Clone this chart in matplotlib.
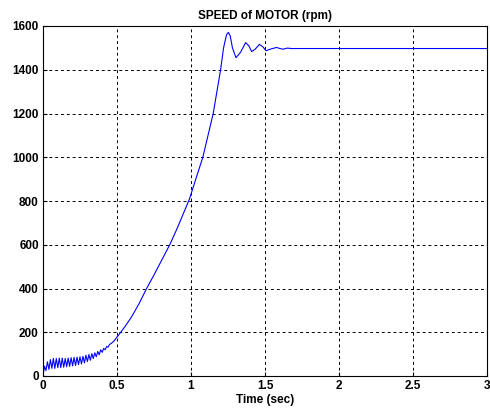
import matplotlib
matplotlib.use("Agg")
import matplotlib.pyplot as plt

# 电机转速数据
time_s = [0.00, 0.01, 0.02, 0.03, 0.04, 0.05, 0.06, 0.07, 0.08, 0.09,
          0.10, 0.11, 0.12, 0.13, 0.14, 0.15, 0.16, 0.17, 0.18, 0.19,
          0.20, 0.21, 0.22, 0.23, 0.24, 0.25, 0.26, 0.27, 0.28, 0.29,
          0.30, 0.31, 0.32, 0.33, 0.34, 0.35, 0.36, 0.37, 0.38, 0.39,
          0.40, 0.41, 0.42, 0.43, 0.44, 0.45, 0.46, 0.48, 0.50, 0.55,
          0.60, 0.65, 0.70, 0.75, 0.80, 0.86, 0.90, 0.95, 0.99, 1.03,
          1.08, 1.15, 1.20, 1.22, 1.24, 1.252, 1.265, 1.28, 1.304, 1.335,
          1.369, 1.39, 1.41, 1.435, 1.462, 1.485, 1.507, 1.54, 1.579, 1.60,
          1.624, 1.65, 1.68, 3.00]
speed_rpm = [0, 45, 25, 65, 30, 75, 35, 80, 35, 80,
             38, 82, 38, 82, 40, 80, 42, 82, 44, 84,
             46, 85, 48, 86, 52, 88, 55, 90, 60, 95,
             66, 98, 72, 102, 80, 106, 88, 112, 97, 120,
             108, 126, 120, 135, 132, 145, 148, 160, 178, 222,
             272, 332, 400, 462, 527, 605, 665, 745, 810, 895,
             1000, 1200, 1400, 1500, 1560, 1571, 1555, 1500, 1455, 1480,
             1524, 1510, 1483, 1495, 1516, 1505, 1487, 1495, 1502, 1497,
             1494, 1499, 1497, 1497]

x_ticks = [0, 0.5, 1, 1.5, 2, 2.5, 3]
x_tick_labels = ['0', '0.5', '1', '1.5', '2', '2.5', '3']
y_ticks = [0, 200, 400, 600, 800, 1000, 1200, 1400, 1600]

plt.rcParams['font.family'] = ['Liberation Sans', 'DejaVu Sans']
plt.rcParams['font.weight'] = 'bold'

fig = plt.figure(figsize=(4.9, 4.17), dpi=100)
ax = fig.add_axes([43 / 490, 41 / 417, 444 / 490, 350 / 417])

ax.plot(time_s, speed_rpm, color='#0000ff', linewidth=0.8)

ax.set_xlim(0, 3)
ax.set_ylim(0, 1600)
ax.set_xticks(x_ticks)
ax.set_xticklabels(x_tick_labels)
ax.set_yticks(y_ticks)
ax.grid(True, color='black', linestyle=(0, (3, 3)), linewidth=0.7)
ax.tick_params(direction='in', length=3, labelsize=8.5, pad=3)
for s in ax.spines.values():
    s.set_linewidth(0.8)

ax.set_title('SPEED of MOTOR (rpm)', fontsize=8.5, pad=5, fontweight='bold')
ax.set_xlabel('Time (sec)', fontsize=8.5, labelpad=1, fontweight='bold')

fig.savefig('out.png', dpi=100)
